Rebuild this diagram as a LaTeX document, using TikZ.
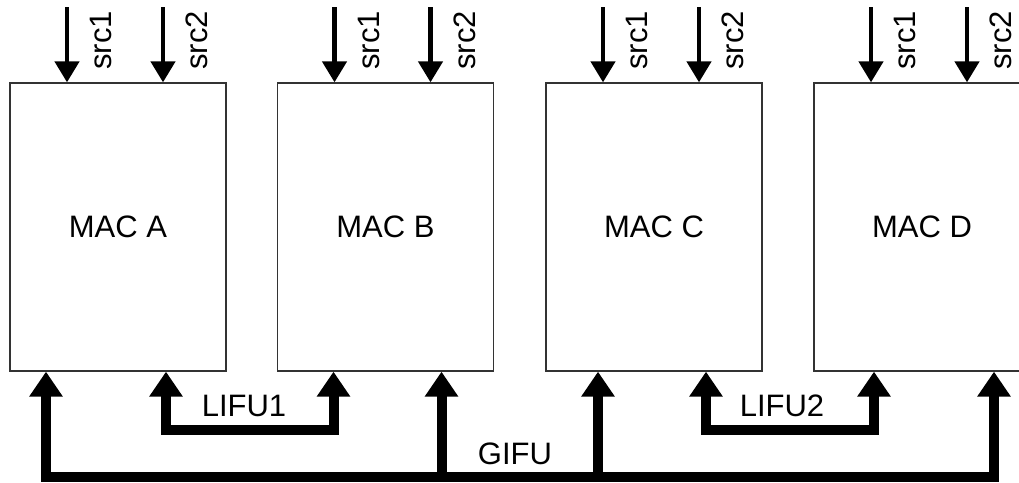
\documentclass[tikz,border=0pt]{standalone}
\usepackage{fontspec}
\setmainfont{Liberation Sans}
\usetikzlibrary{arrows.meta}
\definecolor{cbord}{RGB}{51,51,51}

\begin{document}
\begin{tikzpicture}[x=1pt, y=-1pt, >={Triangle[width=32pt,length=25pt]},
  mac/.style={draw=cbord, line width=1.3pt, minimum width=216pt, minimum height=288pt,
    inner sep=0pt, font=\fontsize{31}{36}\selectfont},
  src/.style={line width=4.5pt, -{Triangle[width=24pt,length=21pt]}},
  srclab/.style={rotate=90, inner sep=0pt, font=\fontsize{31}{36}\selectfont},
  lab/.style={inner sep=0pt, font=\fontsize{31}{36}\selectfont},
  bus/.style={line width=10pt}]
\useasboundingbox (0,0) rectangle (1019,482);
\clip (0,0) rectangle (1019,482);

\node[mac] (macA) at (118,227) {MAC A};
\node[mac] (macB) at (385.5,227) {MAC B};
\node[mac] (macC) at (654,227) {MAC C};
\node[mac] (macD) at (922,227) {MAC D};

% two operand inputs on top of each MAC
\foreach \m in {macA,macB,macC,macD}{
  \foreach \k/\dx in {1/-51,2/45}{
    \coordinate (\m-t\k) at ([xshift=\dx pt]\m.north);
    \coordinate (\m-s\k) at ([yshift=75pt]\m-t\k);
    \draw[src] (\m-s\k) -- (\m-t\k);
    \node[srclab] (\m-l\k) at ([xshift=34pt,yshift=42pt]\m-t\k) {src\k};
  }
}

% forwarding buses below
\coordinate (gA) at ([xshift=-72pt]macA.south);
\coordinate (lA) at ([xshift=48pt]macA.south);
\coordinate (lB) at ([xshift=-52pt]macB.south);
\coordinate (gB) at ([xshift=56pt]macB.south);
\coordinate (gC) at ([xshift=-56pt]macC.south);
\coordinate (lC) at ([xshift=52pt]macC.south);
\coordinate (lD) at ([xshift=-48pt]macD.south);
\coordinate (gD) at ([xshift=72pt]macD.south);
\coordinate (lifu) at (0,430);
\coordinate (gifu) at (0,477);

\draw[bus,<->] (lA) -- (lA |- lifu) -| (lB);
\draw[bus,<->] (lC) -- (lC |- lifu) -| (lD);
\draw[bus,<->] (gA) -- (gA |- gifu) -| (gD);
\draw[bus,->] (gB |- gifu) -- (gB);
\draw[bus,->] (gC |- gifu) -- (gC);

\node[lab] (lifu1) at (244,406) {LIFU1};
\node[lab] (lifu2) at (782,406) {LIFU2};
\node[lab] (gifulab) at (515,454) {GIFU};
\end{tikzpicture}
\end{document}
